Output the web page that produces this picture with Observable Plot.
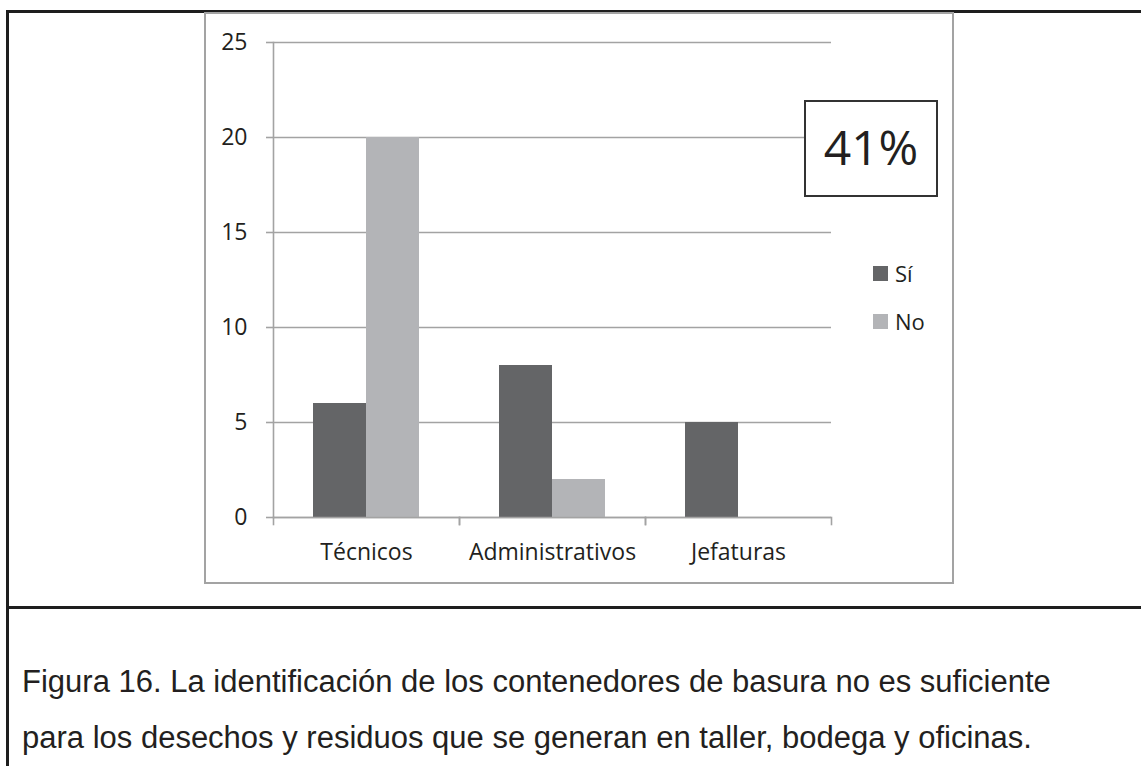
<!DOCTYPE html>
<html>
<head>
<meta charset="utf-8">
<script src="https://cdn.jsdelivr.net/npm/d3@7"></script>
<script src="https://cdn.jsdelivr.net/npm/@observablehq/plot@0.6"></script>
<style>
  html, body { margin: 0; padding: 0; background: #fff; }
  body { width: 1141px; height: 766px; position: relative; overflow: hidden; }
  .frame-top { position: absolute; left: 6px; top: 10px; right: 0; height: 3px; background: #1e1e1e; }
  .frame-left { position: absolute; left: 6px; top: 10px; width: 3px; bottom: 0; background: #1e1e1e; }
  .frame-mid { position: absolute; left: 6px; top: 606px; right: 0; height: 3px; background: #1e1e1e; }
  #chart { position: absolute; left: 204px; top: 12px; width: 746px; height: 568px;
           border: 2px solid #a3a3a3; background: #fff; }
  #chart svg { display: block; overflow: visible; }
  .legend { position: absolute; font-family: "Open Sans", sans-serif; font-size: 22px; color: #231f20; }
  .legend .item { position: absolute; white-space: nowrap; height: 30px; line-height: 30px; }
  .legend .sw { position: absolute; left: 0; top: 8px; width: 15px; height: 15px; }
  .legend .lab { position: absolute; left: 22px; top: 0; }
  #badge { position: absolute; left: 804px; top: 100px; width: 130px; height: 89px;
           border: 2px solid #333; background: #fff; display: flex; align-items: center;
           justify-content: center; font-family: "Open Sans", sans-serif; font-size: 48px;
           color: #231f20; padding-bottom: 4px; box-sizing: content-box; }
  #caption { position: absolute; left: 22px; top: 654px; font-family: "Liberation Sans", Arial, sans-serif;
             font-size: 31px; line-height: 56px; color: #231f20; white-space: nowrap; }
</style>
</head>
<body>
<div class="frame-top"></div>
<div class="frame-left"></div>
<div class="frame-mid"></div>
<div id="chart"></div>
<div id="badge"></div>
<div id="legend" class="legend"></div>
<div id="caption"></div>
<script>
// Respondent groups and answers
const categories = ["Técnicos", "Administrativos", "Jefaturas"];
const series = ["Sí", "No"];
const siValues = [6, 8, 5];
const noValues = [20, 2, 0];
const yTicks = [0, 5, 10, 15, 20, 25];
const highlight = "41%";
const captionLines = [
  "Figura 16. La identificación de los contenedores de basura no es suficiente",
  "para los desechos y residuos que se generan en taller, bodega y oficinas."
];
const seriesColors = ["#646567", "#b3b4b7"];

const rows = categories.flatMap((c, i) => [
  {grupo: c, respuesta: series[0], valor: siValues[i]},
  {grupo: c, respuesta: series[1], valor: noValues[i]}
]);

const W = 746, H = 568;
const mTop = 28, mBottom = 65, mLeft = 67, mRight = 121;
const innerH = H - mTop - mBottom;
const axisGray = "#a3a3a3";

const chart = Plot.plot({
  width: W,
  height: H,
  marginTop: mTop,
  marginBottom: mBottom,
  marginLeft: mLeft,
  marginRight: mRight,
  style: {fontFamily: "Open Sans, sans-serif", fontSize: "23px", color: "#231f20", background: "transparent", overflow: "visible"},
  fx: {domain: categories, padding: 0, round: false},
  x: {domain: series, paddingInner: 0, paddingOuter: 0.755, round: false, axis: null},
  y: {domain: [0, 25]},
  color: {domain: series, range: seriesColors},
  marks: [
    Plot.gridY(yTicks, {stroke: axisGray, strokeOpacity: 1, strokeWidth: 1.6}),
    Plot.barY(rows, {fx: "grupo", x: "respuesta", y: "valor", fill: "respuesta"}),
    // axis lines and category boundary ticks
    Plot.frame({anchor: "left", facetAnchor: "left", stroke: axisGray, strokeWidth: 1.6}),
    Plot.frame({anchor: "left", insetTop: innerH, insetBottom: -7, stroke: axisGray, strokeWidth: 1.6}),
    Plot.frame({anchor: "right", insetTop: innerH, insetBottom: -7, stroke: axisGray, strokeWidth: 1.6}),
    Plot.ruleY([0], {stroke: axisGray, strokeWidth: 1.6}),
    Plot.axisY(yTicks, {tickSize: 7, tickPadding: 19, stroke: axisGray, strokeWidth: 1.6, fontSize: 23, fill: "#231f20", label: null}),
    Plot.axisFx({anchor: "bottom", tickSize: 0, tickPadding: 26, fontSize: 23, fill: "#231f20", label: null})
  ]
});
document.getElementById("chart").appendChild(chart);

// Highlighted share
document.getElementById("badge").textContent = highlight;

// Legend
const legend = document.getElementById("legend");
legend.style.left = "873px";
legend.style.top = "258px";
series.forEach((s, i) => {
  const item = document.createElement("div");
  item.className = "item";
  item.style.top = (i * 48) + "px";
  const sw = document.createElement("div");
  sw.className = "sw";
  sw.style.background = seriesColors[i];
  const lab = document.createElement("div");
  lab.className = "lab";
  lab.textContent = s;
  item.appendChild(sw);
  item.appendChild(lab);
  legend.appendChild(item);
});

// Caption
const cap = document.getElementById("caption");
captionLines.forEach(t => {
  const d = document.createElement("div");
  d.textContent = t;
  cap.appendChild(d);
});
</script>
</body>
</html>
